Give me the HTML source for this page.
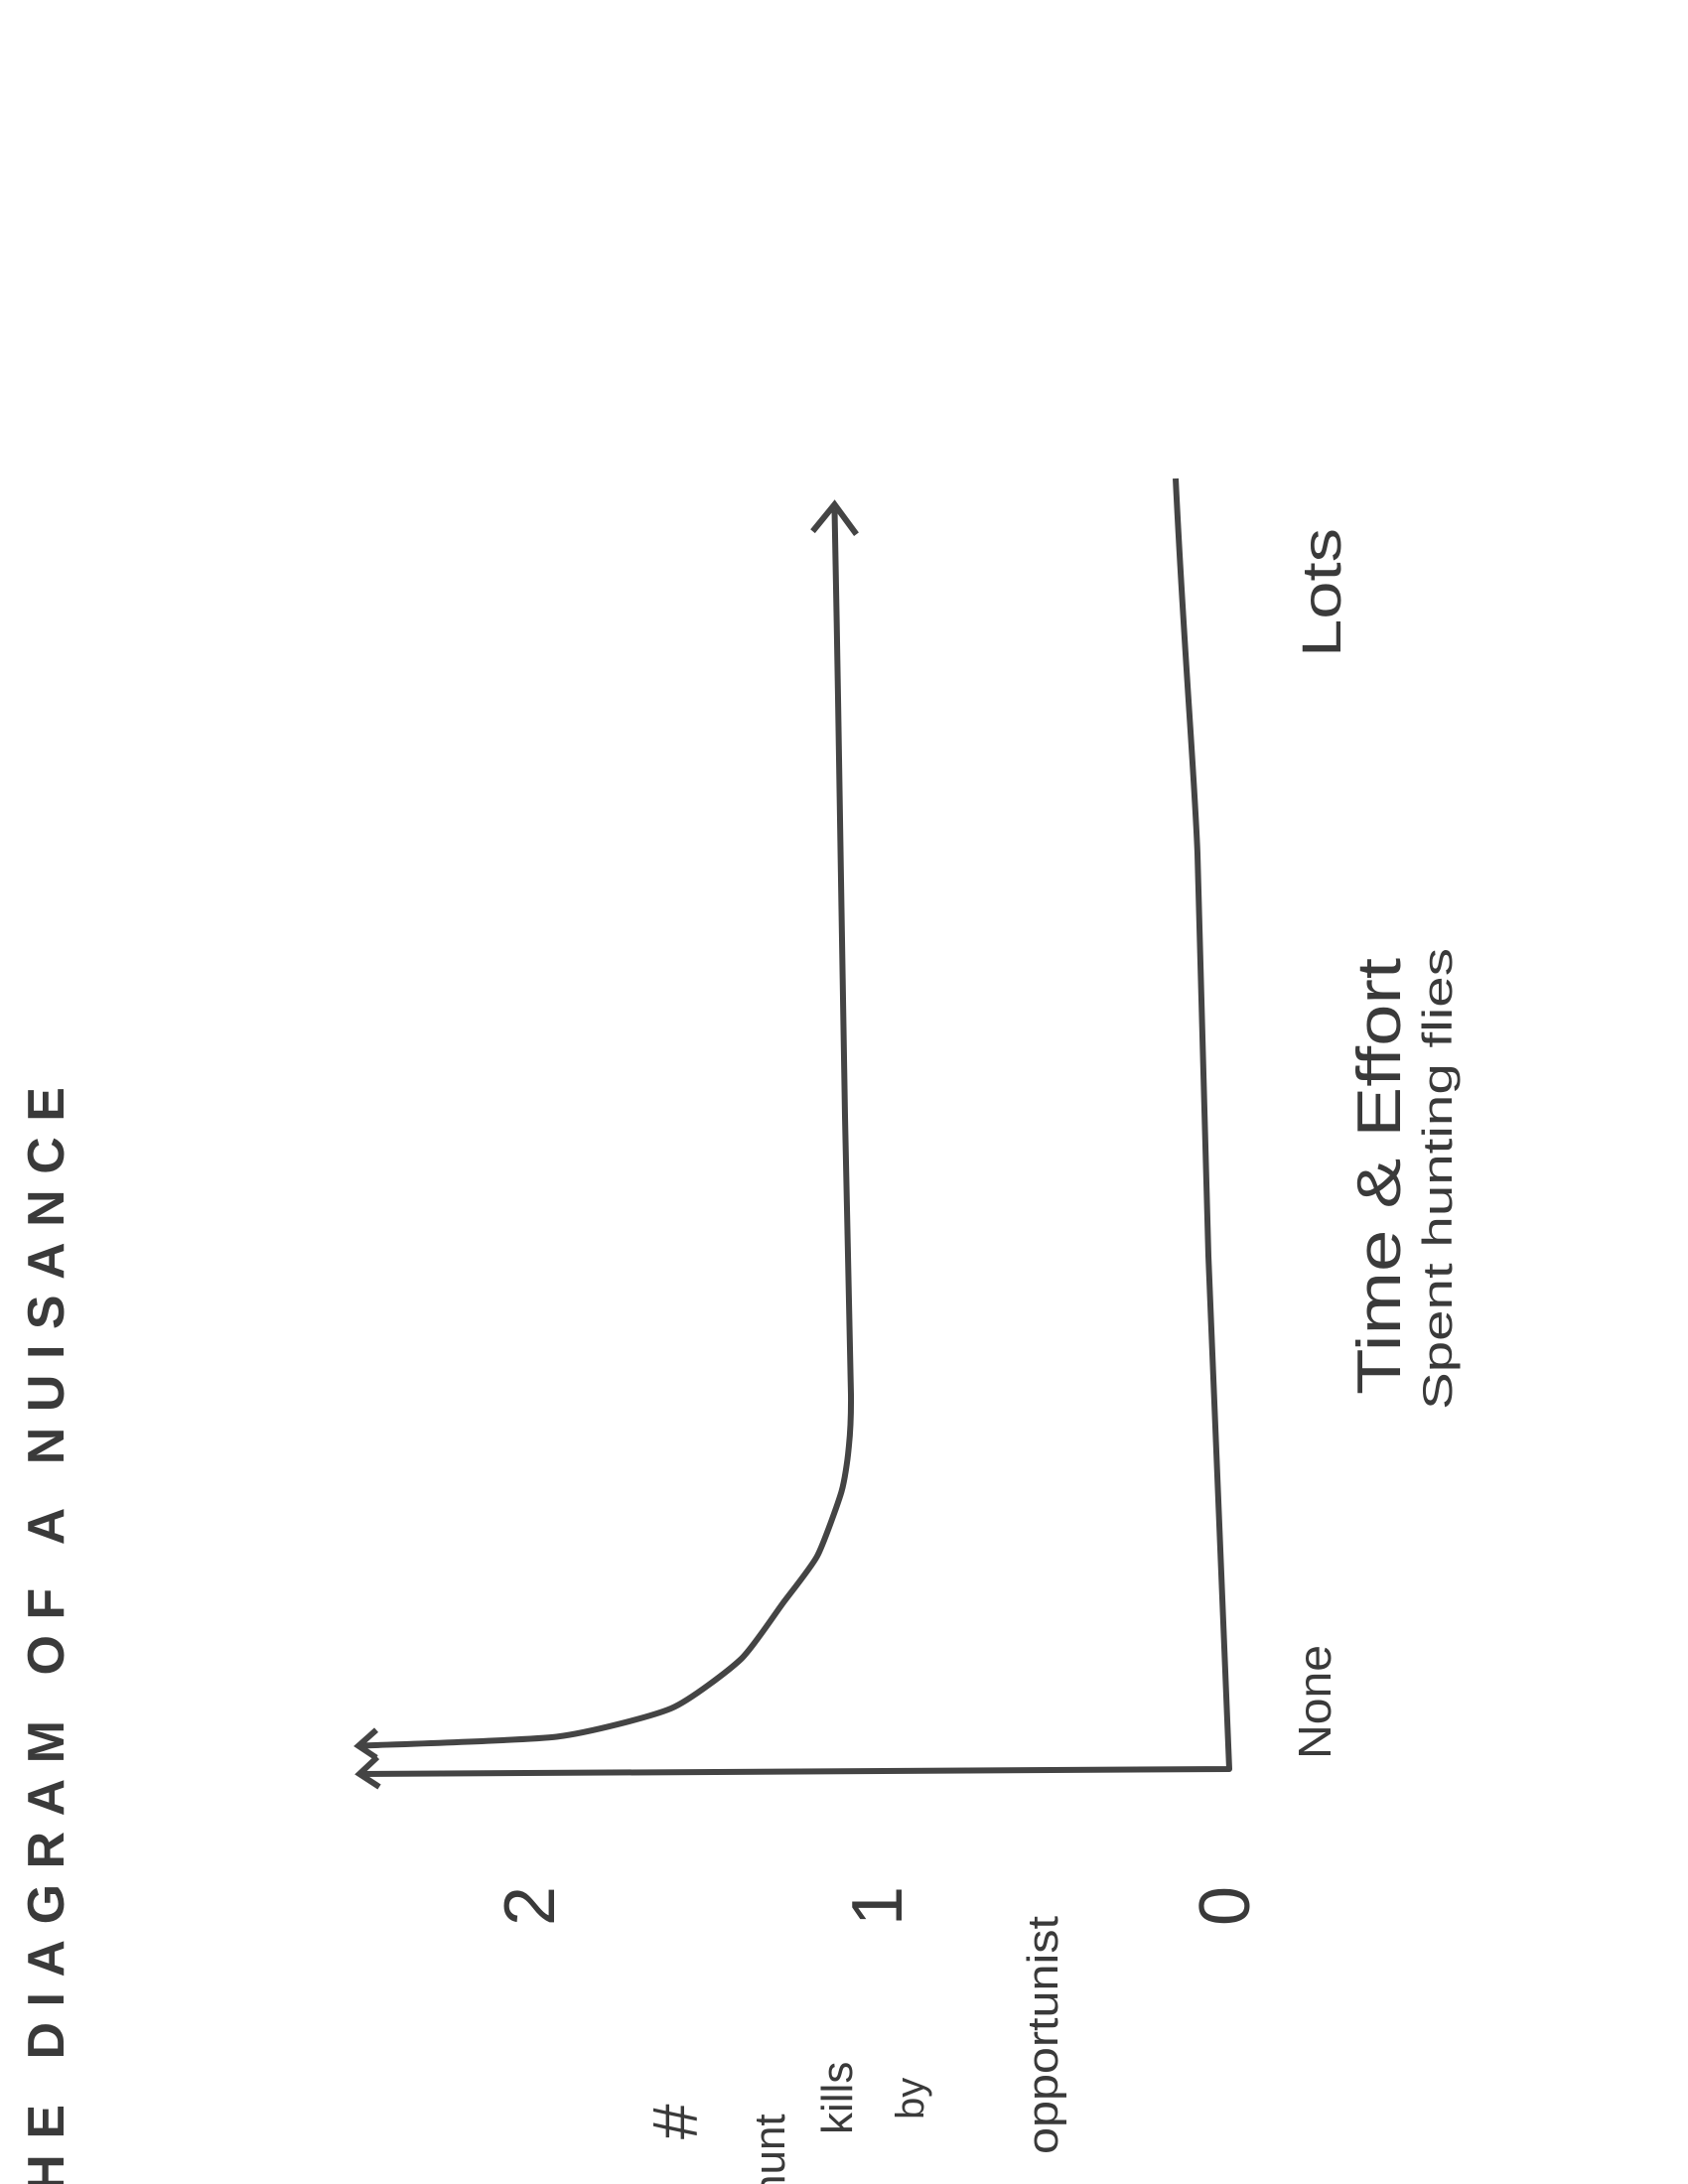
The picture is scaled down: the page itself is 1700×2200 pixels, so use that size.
<!DOCTYPE html>
<html><head><meta charset="utf-8"><style>
body{margin:0;background:#fff;}
svg{display:block;}
text{font-family:"Liberation Sans",sans-serif;fill:#3a3a3a;}
</style></head><body>
<svg id="chart" width="1700" height="2200" viewBox="0 0 1700 2200" xmlns="http://www.w3.org/2000/svg">
<g id="axes"></g>
<g id="marks"></g>
<text transform="translate(64,2255) rotate(-90)" font-size="52" font-weight="bold" textLength="1160" lengthAdjust="spacing">THE DIAGRAM OF A NUISANCE</text>
<text transform="translate(1340,1772) rotate(-90)" font-size="46" textLength="115" lengthAdjust="spacingAndGlyphs">None</text>
<text transform="translate(1350,662) rotate(-90)" font-size="56" textLength="130" lengthAdjust="spacingAndGlyphs">Lots</text>
<text transform="translate(1410,1405) rotate(-90)" font-size="62" textLength="440" lengthAdjust="spacingAndGlyphs">Time &amp; Effort</text>
<text transform="translate(1462,1420) rotate(-90)" font-size="42" textLength="465" lengthAdjust="spacingAndGlyphs">Spent hunting flies</text>
<text transform="translate(702,2155) rotate(-90)" font-size="64">#</text>
<text transform="translate(790,2215) rotate(-90)" font-size="44">hunt</text>
<text transform="translate(858,2150) rotate(-90)" font-size="44">kills</text>
<text transform="translate(930,2135) rotate(-90)" font-size="40">by</text>
<text transform="translate(1065,2170) rotate(-90)" font-size="44" textLength="240" lengthAdjust="spacingAndGlyphs">opportunist</text>
</svg>
<script>
const yTicks = [0, 1, 2];
const tickLabels = ["0", "1", "2"];
const effort = [0.018, 0.025, 0.047, 0.085, 0.128, 0.165, 0.215, 0.247, 0.29, 0.506, 0.83, 0.976];
const kills = [2.5, 1.93, 1.6, 1.40, 1.28, 1.18, 1.11, 1.09, 1.083, 1.10, 1.12, 1.13];

const NS = "http://www.w3.org/2000/svg";
function sy(e){ return 1782 - e * 1300; }
function sx(k){ return 1236 - k * 350; }

const axes = document.getElementById('axes');
const marks = document.getElementById('marks');
const svg = document.getElementById('chart');

const xAxis = document.createElementNS(NS, 'path');


xAxis.setAttribute('d', 'M1184,482 C1192,650 1203,780 1206,860 L1217,1265 L1238,1782 L362,1787');
xAxis.setAttribute('fill', 'none');
xAxis.setAttribute('stroke', '#444');
xAxis.setAttribute('stroke-width', '6');
xAxis.setAttribute('stroke-linejoin', 'round');
axes.appendChild(xAxis);

const yArrow = document.createElementNS(NS, 'path');


yArrow.setAttribute('d', 'M380,1770 L362,1787 L382,1800');
yArrow.setAttribute('fill', 'none');
yArrow.setAttribute('stroke', '#444');
yArrow.setAttribute('stroke-width', '6');
axes.appendChild(yArrow);

yTicks.forEach((t, i) => {
  const tx = document.createElementNS(NS, 'text');
  
  
  tx.setAttribute('transform', 'translate(' + (sx(t) + 22) + ',1920) rotate(-90)');
  tx.setAttribute('font-size', '72');
  tx.setAttribute('text-anchor', 'middle');
  tx.textContent = tickLabels[i];
  svg.appendChild(tx);
});

const pts = effort.map((e, i) => [sx(kills[i]), sy(e)]);
let d = 'M' + pts[0][0] + ',' + pts[0][1];
for (let i = 0; i < pts.length - 1; i++) {
  const p0 = pts[Math.max(0, i - 1)], p1 = pts[i], p2 = pts[i + 1], p3 = pts[Math.min(pts.length - 1, i + 2)];
  const c1 = [p1[0] + (p2[0] - p0[0]) / 10, p1[1] + (p2[1] - p0[1]) / 10];
  const c2 = [p2[0] - (p3[0] - p1[0]) / 10, p2[1] - (p3[1] - p1[1]) / 10];
  d += ' C' + c1[0].toFixed(1) + ',' + c1[1].toFixed(1) + ' ' + c2[0].toFixed(1) + ',' + c2[1].toFixed(1) + ' ' + p2[0].toFixed(1) + ',' + p2[1].toFixed(1);
}
const curve = document.createElementNS(NS, 'path');


curve.setAttribute('d', d);
curve.setAttribute('fill', 'none');
curve.setAttribute('stroke', '#444');
curve.setAttribute('stroke-width', '6');
curve.setAttribute('stroke-linejoin', 'round');
marks.appendChild(curve);

const ex = sx(kills[kills.length - 1]), ey = sy(effort[effort.length - 1]);
const head = document.createElementNS(NS, 'path');


head.setAttribute('d', 'M' + (ex - 22) + ',' + (ey + 22) + ' L' + ex + ',' + (ey - 5) + ' L' + (ex + 22) + ',' + (ey + 25));
head.setAttribute('fill', 'none');
head.setAttribute('stroke', '#444');
head.setAttribute('stroke-width', '6');
marks.appendChild(head);

const sx0 = sx(kills[0]), sy0 = sy(effort[0]);
const head2 = document.createElementNS(NS, 'path');


head2.setAttribute('d', 'M' + (sx0 + 18) + ',' + (sy0 - 16) + ' L' + sx0 + ',' + sy0 + ' L' + (sx0 + 18) + ',' + (sy0 + 12));
head2.setAttribute('fill', 'none');
head2.setAttribute('stroke', '#444');
head2.setAttribute('stroke-width', '6');
marks.appendChild(head2);
</script>
</body></html>
